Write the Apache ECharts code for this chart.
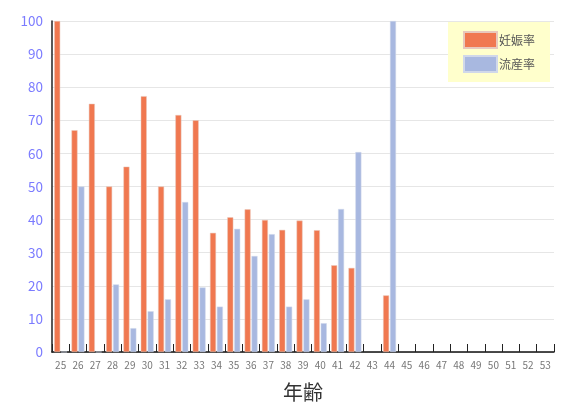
<!DOCTYPE html>
<html><head><meta charset="utf-8">
<script src="https://cdn.jsdelivr.net/npm/echarts@6/dist/echarts.min.js"></script>
<style>html,body{margin:0;padding:0;background:#fff}#c{width:565px;height:410px}</style>
</head><body><div id="c"></div>
<script>
const ages = ['25','26','27','28','29','30','31','32','33','34','35','36','37','38','39','40','41','42','43','44','45','46','47','48','49','50','51','52','53'];
const pregnancyRate = [100,67,75,50,56,77.3,50,71.6,70,36,40.7,43.1,39.9,36.9,39.7,36.8,26.2,25.4,null,17.1,null,null,null,null,null,null,null,null,null];
const miscarriageRate = [0,50,0,20.4,7.2,12.3,15.9,45.3,19.5,13.7,37.2,29,35.6,13.7,15.9,8.7,43.2,60.4,null,100,null,null,null,null,null,null,null,null,null];
const yTicks = [0,10,20,30,40,50,60,70,80,90,100];

const chart = echarts.init(document.getElementById('c'));
const font = '"Noto Sans CJK JP", "Noto Sans", sans-serif';
chart.setOption({
  animation:false,
  textStyle:{fontFamily:font},
  grid:{left:52,right:11,top:21,bottom:58},
  legend:{
    orient:'vertical', right:15, top:22,
    backgroundColor:'#ffffcc', padding:[9,15,9,15],
    itemWidth:33, itemHeight:16, itemGap:6,
    icon:'rect',
    textStyle:{color:'#555',fontSize:12,fontFamily:font,padding:[0,0,0,-3]},
    data:['妊娠率','流産率']
  },
  xAxis:{
    type:'category', data:ages, boundaryGap:true,
    name:'年齢', nameLocation:'middle', nameGap:30,
    nameTextStyle:{fontSize:20,color:'#333',fontFamily:font},
    axisLine:{lineStyle:{color:'#111',width:1.5}},
    axisTick:{show:true,inside:true,length:8,interval:0,lineStyle:{color:'#222'}},
    axisLabel:{interval:0,color:'#777',fontSize:10,margin:8}
  },
  yAxis:{
    type:'value', min:yTicks[0], max:yTicks[yTicks.length-1], interval:10,
    axisLine:{show:true,lineStyle:{color:'#222',width:1.5}},
    axisTick:{show:false},
    axisLabel:{color:'#7b7bff',fontSize:13.5,margin:9},
    splitLine:{lineStyle:{color:'#e6e6e6'}}
  },
  series:[
    {name:'妊娠率',type:'bar',data:pregnancyRate,barWidth:6,barGap:'15%',
     itemStyle:{color:'#f07850',borderColor:'#e8c8bc',borderWidth:0.5}},
    {name:'流産率',type:'bar',data:miscarriageRate,barWidth:6,
     itemStyle:{color:'#a8b8e0',borderColor:'#d0d8ea',borderWidth:0.5}}
  ]
});
</script></body></html>
